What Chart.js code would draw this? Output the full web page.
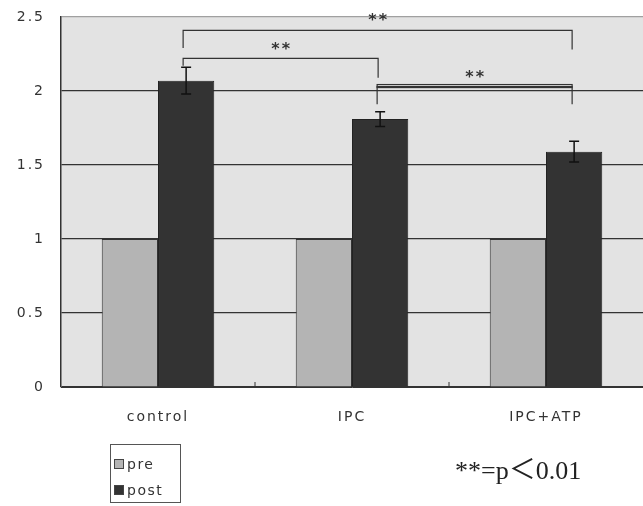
<!DOCTYPE html>
<html>
<head>
<meta charset="utf-8">
<script src="https://cdn.jsdelivr.net/npm/chart.js@4.4.0/dist/chart.umd.min.js"></script>
<style>
body{margin:0;background:#fff;}
#wrap{position:relative;width:643px;height:506px;}
#legend{position:absolute;left:110px;top:444px;width:69px;height:57px;border:1px solid #555;
  font:14px "DejaVu Sans";letter-spacing:1.5px;color:#333;}
#legend div{position:absolute;left:3px;height:18px;line-height:18px;}
#legend span{display:inline-block;width:8px;height:8px;border:1px solid #444;margin-right:3px;vertical-align:0px;}
#note{position:absolute;left:455px;top:448px;font:26px "Liberation Serif";color:#222;white-space:nowrap;}
#note .lt{font-family:"Noto Sans CJK JP";font-size:27px;}
</style>
</head>
<body>
<div id="wrap">
<canvas id="mycanvas" width="643" height="506"></canvas>
<div id="legend">
  <div style="top:10px"><span style="background:#b4b4b4"></span>pre</div>
  <div style="top:36px"><span style="background:#333"></span>post</div>
</div>
<div id="note">**=p<span class="lt">＜</span>0.01</div>
</div>
<script>
var groups = ['control', 'IPC', 'IPC+ATP'];
var preVals = [1, 1, 1];
var postVals = [2.07, 1.81, 1.59];
var postErr = [0.09, 0.05, 0.07];
var yTicks = [0, 0.5, 1, 1.5, 2, 2.5];

// significance brackets (between post bars)
var sigFrom = [0, 0, 1];
var sigTo = [2, 1, 2];
var sigY = [2.41, 2.22, 2.03];
var sigLeftEnd = [2.29, 2.17, 1.91];
var sigRightEnd = [2.28, 2.09, 1.91];
var sigText = ['**', '**', '**'];

var bgPlugin = {
	id: 'bg',
	beforeDraw: function(chart){
		var c = chart.ctx, a = chart.chartArea;
		c.letterSpacing = '2px';
		c.save();
		c.fillStyle = '#e3e3e3';
		c.fillRect(a.left, a.top, a.right - a.left, a.bottom - a.top);
		c.restore();
	}
};

var extrasPlugin = {
	id: 'extras',
	afterDatasetsDraw: function(chart){
		var c = chart.ctx, ys = chart.scales.y, a = chart.chartArea;
		var post = chart.getDatasetMeta(1).data;
		c.save();
		c.strokeStyle = '#111';
		c.lineWidth = 1.5;
		// error bars
		for(var i in postVals){
			var x = post[i].x;
			var yt = ys.getPixelForValue(postVals[i] + postErr[i]);
			var yb = ys.getPixelForValue(postVals[i] - postErr[i]);
			c.beginPath();
			c.moveTo(x, yt); c.lineTo(x, yb);
			c.moveTo(x - 5, yt); c.lineTo(x + 5, yt);
			c.moveTo(x - 5, yb); c.lineTo(x + 5, yb);
			c.stroke();
		}
		// small ticks between groups
		var pre = chart.getDatasetMeta(0).data;
		c.lineWidth = 1;
		c.strokeStyle = '#333';
		for(var j = 0; j < groups.length - 1; j++){
			var xm = (post[j].x + pre[j + 1].x) / 2;
			c.beginPath();
			c.moveTo(xm, a.bottom); c.lineTo(xm, a.bottom - 5);
			c.stroke();
		}
		// brackets
		c.lineWidth = 1.2;
		c.strokeStyle = '#333';
		c.fillStyle = '#333';
		c.font = 'bold 16px "DejaVu Sans"';
		c.textAlign = 'center';
		c.textBaseline = 'middle';
		for(var k in sigFrom){
			var x1 = post[sigFrom[k]].x - 3, x2 = post[sigTo[k]].x - 2;
			var y = ys.getPixelForValue(sigY[k]);
			c.beginPath();
			c.moveTo(x1, ys.getPixelForValue(sigLeftEnd[k]));
			c.lineTo(x1, y);
			c.lineTo(x2, y);
			c.lineTo(x2, ys.getPixelForValue(sigRightEnd[k]));
			c.stroke();
			if(k == 2){
				c.strokeRect(x1, y - 2, x2 - x1, 3);
			}
			c.fillText(sigText[k], (x1 + x2) / 2 + 1, y - 9);
		}
		c.restore();
	}
};

var chartdata = {
	labels: groups,
	datasets: [
		{
		label: 'pre',
		backgroundColor: '#b4b4b4',
		borderColor: '#333',
		borderWidth: 1,
		data: preVals
		},
		{
		label: 'post',
		backgroundColor: '#333333',
		borderColor: '#222',
		borderWidth: 1,
		data: postVals
		}
	]
};

var ctx = document.getElementById('mycanvas');
var barGraph = new Chart(ctx, {
	type: 'bar',
	data: chartdata,
	plugins: [bgPlugin, extrasPlugin],
	options: {
		responsive: false,
		animation: false,
		layout: {padding: {top: 17, right: 0, left: 0, bottom: 0}},
		plugins: {legend: {display: false}, tooltip: {enabled: false}},
		datasets: {bar: {categoryPercentage: 0.58, barPercentage: 1}},
		scales: {
			x: {
				grid: {display: false},
				border: {color: '#333', width: 1},
				ticks: {color: '#333', padding: 14, font: {family: 'DejaVu Sans', size: 14}},
				afterFit: function(s){ s.height = 119; s.paddingLeft = 0; s.paddingRight = 0; }
			},
			y: {
				min: 0, max: 2.5,
				afterBuildTicks: function(s){ s.ticks = yTicks.map(function(v){ return {value: v}; }); },
				grid: {
					drawTicks: false,
					color: function(c){ return c.tick && c.tick.value === 2.5 ? '#a0a0a0' : '#333'; },
					lineWidth: 1.2
				},
				border: {color: '#333', width: 1.5},
				ticks: {
					color: '#333', padding: 16, font: {family: 'DejaVu Sans', size: 14},
					callback: function(v){ return String(v); }
				},
				afterFit: function(s){ s.width = 61; s.paddingTop = 0; s.paddingBottom = 0; }
			}
		}
	}
});
</script>
</body>
</html>
